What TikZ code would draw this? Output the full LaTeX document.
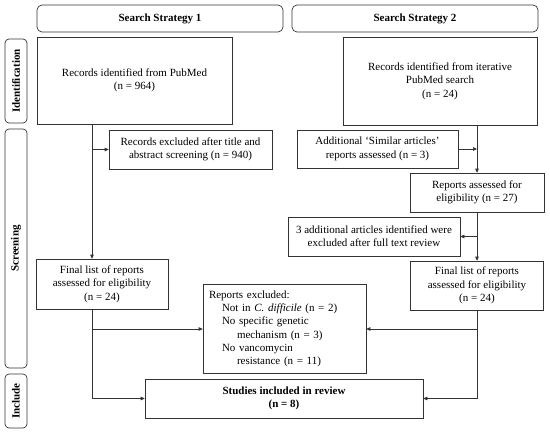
\documentclass[tikz,border=0pt]{standalone}
\usepackage{fontspec}
\setmainfont{Liberation Serif}
\usetikzlibrary{arrows.meta, positioning, calc}

\tikzset{
  box/.style={draw=black!80, line width=0.7pt, align=center, inner sep=3pt,
    font=\fontsize{11}{13.3}\selectfont},
  headbox/.style={box, rounded corners=5pt, font=\fontsize{11}{13.3}\selectfont\bfseries},
  sidebox/.style={draw=black!80, line width=0.7pt, rounded corners=4pt, inner sep=0pt,
    font=\fontsize{11}{13.3}\selectfont\bfseries},
  link/.style={draw=black!80, line width=0.7pt},
  arr/.style={link, -{Triangle[length=4pt,width=3.6pt]}}
}

\begin{document}
\begin{tikzpicture}[x=1pt, y=-1pt]
\useasboundingbox (0,0) rectangle (550,434);
% headers
\node[headbox, minimum width=246pt, minimum height=27pt] (ss1) at (160,18.5) {Search Strategy 1};
\node[headbox, minimum width=246pt, minimum height=27pt] (ss2) at (415,18.5) {Search Strategy 2};
% phase labels
\node[sidebox, minimum width=22pt, minimum height=84pt] (idside) at (16,81) {};
\node[rotate=90, font=\fontsize{11}{13.3}\selectfont\bfseries] at (idside) {Identification};
\node[sidebox, minimum width=22pt, minimum height=239pt] (scrside) at (16,248.5) {};
\node[rotate=90, font=\fontsize{11}{13.3}\selectfont\bfseries] at (scrside) {Screening};
\node[sidebox, minimum width=22pt, minimum height=54pt] (incside) at (16,401) {};
\node[rotate=90, font=\fontsize{11}{13.3}\selectfont\bfseries] at (incside) {Include};

% strategy 1
\node[box, minimum width=195pt, minimum height=87pt] (pubmed) at (134.5,80.5) {Records identified from PubMed\\(n = 964)};
\node[box, minimum width=163pt, minimum height=39pt] (excl1) at (190.5,149.5) {Records excluded after title and\\abstract screening (n = 940)};
\node[box, minimum width=132pt, minimum height=50pt] (final1) at (102,284) {Final list of reports\\assessed for eligibility\\(n = 24)};

% strategy 2
\node[box, minimum width=194pt, minimum height=88pt] (iter) at (440,81) {Records identified from iterative\\PubMed search\\(n = 24)};
\node[box, minimum width=161pt, minimum height=38pt] (addl) at (377.5,149) {Additional `Similar articles'\\reports assessed (n = 3)};
\node[box, minimum width=134pt, minimum height=39pt] (rep27) at (477,192.5) {Reports assessed for\\eligibility (n = 27)};
\node[box, minimum width=172pt, minimum height=39pt] (three) at (374,236.5) {3 additional articles identified were\\excluded after full text review};
\node[box, minimum width=133pt, minimum height=49pt] (final2) at (477,285.5) {Final list of reports\\assessed for eligibility\\(n = 24)};

% shared
\node[box, align=left, text width=151pt, inner sep=6pt, minimum height=84pt] (reptexcl) at (284.5,329) {Reports excluded:\\
\hspace*{13pt}Not in \textit{C. difficile} (n = 2)\\
\hspace*{13pt}No specific genetic\\
\hspace*{28pt}mechanism (n = 3)\\
\hspace*{13pt}No vancomycin\\
\hspace*{28pt}resistance (n = 11)};
\node[box, minimum width=278pt, minimum height=39pt, font=\fontsize{11}{13.3}\selectfont\bfseries] (studies) at (284,398.5) {Studies included in review\\(n = 8)};

% connectors left
\coordinate (l1) at (92,0);
\draw[arr] (pubmed.south -| l1) -- (final1.north -| l1);
\draw[arr] (excl1.west -| l1) -- (excl1.west);
\draw[link] (final1.south -| l1) -- (studies.west -| l1);
\draw[arr] (studies.west -| l1) -- (studies.west);
\draw[arr] (reptexcl.west -| l1) -- (reptexcl.west);

% connectors right
\draw[arr] (iter.south -| rep27) -- (rep27.north);
\draw[arr] (addl.east) -- (addl.east -| rep27);
\draw[arr] (rep27.south) -- (final2.north -| rep27);
\draw[arr] (three.east -| rep27) -- (three.east);
\draw[link] (final2.south -| rep27) -- (studies.east -| rep27);
\draw[arr] (studies.east -| rep27) -- (studies.east);
\draw[arr] (reptexcl.east -| rep27) -- (reptexcl.east);
\end{tikzpicture}
\end{document}
